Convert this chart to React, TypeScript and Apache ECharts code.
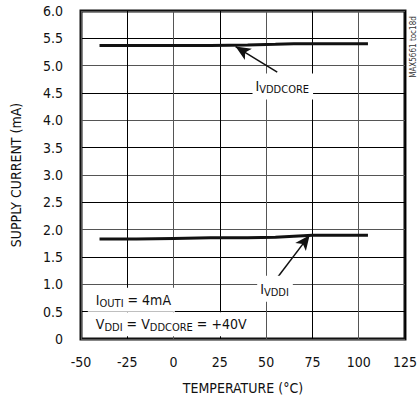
import React, { useEffect, useRef } from "react";
import * as echarts from "echarts";

const temps = [-40, -20, 0, 20, 40, 55, 65, 75, 90, 105];
const iVddCore = [5.37, 5.37, 5.37, 5.37, 5.38, 5.39, 5.4, 5.4, 5.4, 5.4];
const iVddi = [1.83, 1.83, 1.84, 1.85, 1.85, 1.86, 1.88, 1.9, 1.9, 1.9];
const FONT = "'Liberation Sans Narrow', 'DejaVu Sans Condensed', sans-serif";

const subRich = {
  m: { fontSize: 14, fontFamily: FONT, color: "#111", lineHeight: 18 },
  s: { fontSize: 11, fontFamily: FONT, color: "#111", lineHeight: 18, padding: [7, 0, 0, 0] },
};

export default function App() {
  const ref = useRef<HTMLDivElement>(null);
  useEffect(() => {
    document.body.style.margin = "0";
    const chart = echarts.init(ref.current!, null, { renderer: "svg" });
    const pt = (t: number, v: number) => [t, v];
    chart.setOption({
      animation: false,
      backgroundColor: "#fff",
      textStyle: { fontFamily: FONT },
      grid: { left: 81, top: 11, right: 10, bottom: 61, show: true, borderColor: "#111", borderWidth: 3, containLabel: false },
      xAxis: {
        type: "value", min: -50, max: 125, interval: 25,
        name: "TEMPERATURE (°C)", nameLocation: "middle", nameGap: 42,
        nameTextStyle: { fontSize: 14, color: "#111", fontFamily: FONT },
        axisLine: { show: false }, axisTick: { show: false },
        axisLabel: { fontSize: 14, color: "#111", margin: 16, fontFamily: FONT },
        splitLine: { show: true, lineStyle: { color: ["#555", "#000"], width: 1 } },
      },
      yAxis: {
        type: "value", min: 0, max: 6, interval: 0.5,
        name: "SUPPLY CURRENT (mA)", nameLocation: "middle", nameGap: 58, nameRotate: 90,
        nameTextStyle: { fontSize: 14, color: "#111", fontFamily: FONT },
        axisLine: { show: false }, axisTick: { show: false },
        axisLabel: { fontSize: 14, color: "#111", margin: 18, fontFamily: FONT, formatter: (v: number) => (v === 0 ? "0" : v.toFixed(1)) },
        splitLine: { show: true, lineStyle: { color: ["#555", "#000"], width: 1 } },
      },
      series: [
        {
          type: "line", data: temps.map((t, i) => [t, iVddCore[i]]), showSymbol: false,
          lineStyle: { color: "#111", width: 3 }, z: 5,
          markLine: {
            silent: true, symbol: ["none", "arrow"], symbolSize: [10, 15],
            lineStyle: { color: "#111", width: 1.5, type: "solid" }, label: { show: false },
            data: [[{ coord: pt(56, 4.88) }, { coord: pt(33.5, 5.35) }]],
          },
          markPoint: {
            silent: true, symbol: "rect", symbolSize: 0,
            data: [{
              coord: pt(59, 4.62),
              label: { show: true, formatter: "{m|I}{s|VDDCORE}", rich: subRich, backgroundColor: "#fff", padding: [4, 4, 4, 3] },
            }],
          },
        },
        {
          type: "line", data: temps.map((t, i) => [t, iVddi[i]]), showSymbol: false,
          lineStyle: { color: "#111", width: 3 }, z: 5,
          markLine: {
            silent: true, symbol: ["none", "arrow"], symbolSize: [10, 15],
            lineStyle: { color: "#111", width: 1.5, type: "solid" }, label: { show: false },
            data: [[{ coord: pt(56, 1.12) }, { coord: pt(73.5, 1.9) }]],
          },
          markPoint: {
            silent: true, symbol: "rect", symbolSize: 0,
            data: [
              {
                coord: pt(54.8, 0.92),
                label: { show: true, formatter: "{m|I}{s|VDDI}", rich: subRich, backgroundColor: "#fff", padding: [4, 4, 4, 3] },
              },
              {
                coord: pt(-49, 0.72),
                label: { show: true, position: "right", formatter: "{m|I}{s|OUTI}{m| = 4mA}", rich: subRich, backgroundColor: "#fff", padding: [3, 4, 3, 8] },
              },
              {
                coord: pt(-49, 0.27),
                label: { show: true, position: "right", formatter: "{m|V}{s|DDI}{m| = V}{s|DDCORE}{m| = +40V}", rich: subRich, backgroundColor: "#fff", padding: [3, 4, 3, 8] },
              },
            ],
          },
        },
      ],
      graphic: [
        {
          type: "text", x: 413, y: 47, rotation: Math.PI / 2,
          style: { text: "MAX5661 toc18d", fontSize: 8, fill: "#333", fontFamily: FONT, align: "center", verticalAlign: "middle" },
        },
      ],
    });
    return () => chart.dispose();
  }, []);
  return <div ref={ref} style={{ width: 420, height: 400 }} />;
}
